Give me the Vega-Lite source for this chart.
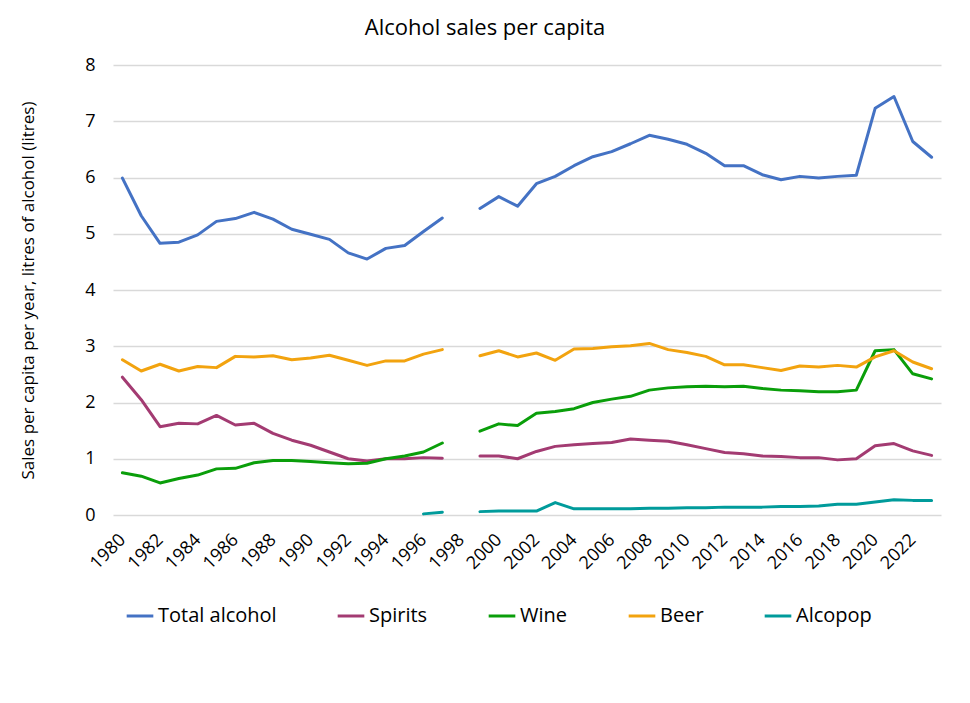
{
  "$schema": "https://vega.github.io/schema/vega-lite/v6.json",
  "width": 828,
  "height": 450,
  "autosize": {"type": "none"},
  "padding": {"left": 113, "top": 65, "right": 29, "bottom": 188},
  "background": "white",
  "title": {"text": "Alcohol sales per capita", "fontSize": 22, "font": "Open Sans", "fontWeight": "normal", "color": "#000000", "offset": 16, "dx": -42},
  "config": {
    "font": "Open Sans",
    "view": {"stroke": null}
  },
  "data": {
    "values": [
      {"year": 1980, "Total alcohol": 5.99, "Spirits": 2.45, "Wine": 0.75, "Beer": 2.76, "Alcopop": null},
      {"year": 1981, "Total alcohol": 5.32, "Spirits": 2.05, "Wine": 0.69, "Beer": 2.56, "Alcopop": null},
      {"year": 1982, "Total alcohol": 4.83, "Spirits": 1.57, "Wine": 0.57, "Beer": 2.68, "Alcopop": null},
      {"year": 1983, "Total alcohol": 4.85, "Spirits": 1.63, "Wine": 0.65, "Beer": 2.56, "Alcopop": null},
      {"year": 1984, "Total alcohol": 4.98, "Spirits": 1.62, "Wine": 0.71, "Beer": 2.64, "Alcopop": null},
      {"year": 1985, "Total alcohol": 5.22, "Spirits": 1.77, "Wine": 0.82, "Beer": 2.62, "Alcopop": null},
      {"year": 1986, "Total alcohol": 5.27, "Spirits": 1.60, "Wine": 0.83, "Beer": 2.82, "Alcopop": null},
      {"year": 1987, "Total alcohol": 5.38, "Spirits": 1.63, "Wine": 0.93, "Beer": 2.81, "Alcopop": null},
      {"year": 1988, "Total alcohol": 5.26, "Spirits": 1.45, "Wine": 0.97, "Beer": 2.83, "Alcopop": null},
      {"year": 1989, "Total alcohol": 5.08, "Spirits": 1.33, "Wine": 0.97, "Beer": 2.76, "Alcopop": null},
      {"year": 1990, "Total alcohol": 4.99, "Spirits": 1.24, "Wine": 0.95, "Beer": 2.79, "Alcopop": null},
      {"year": 1991, "Total alcohol": 4.90, "Spirits": 1.12, "Wine": 0.93, "Beer": 2.84, "Alcopop": null},
      {"year": 1992, "Total alcohol": 4.66, "Spirits": 1.00, "Wine": 0.91, "Beer": 2.75, "Alcopop": null},
      {"year": 1993, "Total alcohol": 4.55, "Spirits": 0.96, "Wine": 0.92, "Beer": 2.66, "Alcopop": null},
      {"year": 1994, "Total alcohol": 4.74, "Spirits": 1.00, "Wine": 1.00, "Beer": 2.74, "Alcopop": null},
      {"year": 1995, "Total alcohol": 4.79, "Spirits": 1.00, "Wine": 1.05, "Beer": 2.74, "Alcopop": null},
      {"year": 1996, "Total alcohol": 5.04, "Spirits": 1.02, "Wine": 1.12, "Beer": 2.86, "Alcopop": 0.02},
      {"year": 1997, "Total alcohol": 5.28, "Spirits": 1.01, "Wine": 1.28, "Beer": 2.94, "Alcopop": 0.05},
      {"year": 1998, "Total alcohol": null, "Spirits": null, "Wine": null, "Beer": null, "Alcopop": null},
      {"year": 1999, "Total alcohol": 5.45, "Spirits": 1.05, "Wine": 1.49, "Beer": 2.83, "Alcopop": 0.06},
      {"year": 2000, "Total alcohol": 5.66, "Spirits": 1.05, "Wine": 1.62, "Beer": 2.92, "Alcopop": 0.07},
      {"year": 2001, "Total alcohol": 5.49, "Spirits": 1.00, "Wine": 1.59, "Beer": 2.81, "Alcopop": 0.07},
      {"year": 2002, "Total alcohol": 5.89, "Spirits": 1.13, "Wine": 1.81, "Beer": 2.88, "Alcopop": 0.07},
      {"year": 2003, "Total alcohol": 6.02, "Spirits": 1.22, "Wine": 1.84, "Beer": 2.75, "Alcopop": 0.22},
      {"year": 2004, "Total alcohol": 6.21, "Spirits": 1.25, "Wine": 1.89, "Beer": 2.95, "Alcopop": 0.11},
      {"year": 2005, "Total alcohol": 6.37, "Spirits": 1.27, "Wine": 2.00, "Beer": 2.96, "Alcopop": 0.11},
      {"year": 2006, "Total alcohol": 6.46, "Spirits": 1.29, "Wine": 2.06, "Beer": 2.99, "Alcopop": 0.11},
      {"year": 2007, "Total alcohol": 6.60, "Spirits": 1.35, "Wine": 2.11, "Beer": 3.01, "Alcopop": 0.11},
      {"year": 2008, "Total alcohol": 6.75, "Spirits": 1.33, "Wine": 2.22, "Beer": 3.05, "Alcopop": 0.12},
      {"year": 2009, "Total alcohol": 6.68, "Spirits": 1.31, "Wine": 2.26, "Beer": 2.94, "Alcopop": 0.12},
      {"year": 2010, "Total alcohol": 6.59, "Spirits": 1.25, "Wine": 2.28, "Beer": 2.89, "Alcopop": 0.13},
      {"year": 2011, "Total alcohol": 6.43, "Spirits": 1.18, "Wine": 2.29, "Beer": 2.82, "Alcopop": 0.13},
      {"year": 2012, "Total alcohol": 6.21, "Spirits": 1.11, "Wine": 2.28, "Beer": 2.67, "Alcopop": 0.14},
      {"year": 2013, "Total alcohol": 6.21, "Spirits": 1.09, "Wine": 2.29, "Beer": 2.67, "Alcopop": 0.14},
      {"year": 2014, "Total alcohol": 6.05, "Spirits": 1.05, "Wine": 2.25, "Beer": 2.62, "Alcopop": 0.14},
      {"year": 2015, "Total alcohol": 5.96, "Spirits": 1.04, "Wine": 2.22, "Beer": 2.57, "Alcopop": 0.15},
      {"year": 2016, "Total alcohol": 6.02, "Spirits": 1.02, "Wine": 2.21, "Beer": 2.65, "Alcopop": 0.15},
      {"year": 2017, "Total alcohol": 5.99, "Spirits": 1.02, "Wine": 2.19, "Beer": 2.63, "Alcopop": 0.16},
      {"year": 2018, "Total alcohol": 6.02, "Spirits": 0.98, "Wine": 2.19, "Beer": 2.66, "Alcopop": 0.19},
      {"year": 2019, "Total alcohol": 6.04, "Spirits": 1.00, "Wine": 2.22, "Beer": 2.63, "Alcopop": 0.19},
      {"year": 2020, "Total alcohol": 7.23, "Spirits": 1.23, "Wine": 2.92, "Beer": 2.81, "Alcopop": 0.23},
      {"year": 2021, "Total alcohol": 7.44, "Spirits": 1.27, "Wine": 2.94, "Beer": 2.92, "Alcopop": 0.27},
      {"year": 2022, "Total alcohol": 6.64, "Spirits": 1.14, "Wine": 2.51, "Beer": 2.72, "Alcopop": 0.26},
      {"year": 2023, "Total alcohol": 6.36, "Spirits": 1.06, "Wine": 2.42, "Beer": 2.60, "Alcopop": 0.26}
    ]
  },
  "transform": [
    {"fold": ["Total alcohol", "Spirits", "Wine", "Beer", "Alcopop"], "as": ["series", "value"]}
  ],
  "mark": {"type": "line", "strokeWidth": 3, "invalid": "break-paths-show-domains", "strokeJoin": "round", "strokeCap": "round"},
  "encoding": {
    "x": {
      "field": "year",
      "type": "quantitative",
      "scale": {"domain": [1979.5, 2023.5], "nice": false, "zero": false},
      "axis": {
        "title": null,
        "values": [1980, 1982, 1984, 1986, 1988, 1990, 1992, 1994, 1996, 1998, 2000, 2002, 2004, 2006, 2008, 2010, 2012, 2014, 2016, 2018, 2020, 2022],
        "format": "d",
        "labelAngle": -45,
        "labelAlign": "right",
        "labelBaseline": "middle",
        "labelFontSize": 18,
        "labelColor": "#000000",
        "labelPadding": 22,
        "labelFont": "Open Sans",
        "domain": false,
        "ticks": false,
        "grid": false,
        "labelOverlap": false
      }
    },
    "y": {
      "field": "value",
      "type": "quantitative",
      "scale": {"domain": [0, 8], "nice": false},
      "axis": {
        "title": "Sales per capita per year, litres of alcohol (litres)",
        "titleFontSize": 17,
        "titleFontWeight": "normal",
        "titleFont": "Open Sans",
        "titleColor": "#000000",
        "titlePadding": 47,
        "values": [0, 1, 2, 3, 4, 5, 6, 7, 8],
        "labelFontSize": 18,
        "labelColor": "#000000",
        "labelFont": "Open Sans",
        "labelPadding": 18,
        "domain": false,
        "ticks": false,
        "grid": true,
        "gridColor": "#D9D9D9",
        "gridWidth": 1.3
      }
    },
    "color": {
      "field": "series",
      "type": "nominal",
      "scale": {
        "domain": ["Total alcohol", "Spirits", "Wine", "Beer", "Alcopop"],
        "range": ["#4472C4", "#A33B72", "#0A9E0A", "#F2A30F", "#009B9B"]
      },
      "legend": {
        "title": null,
        "orient": "none",
        "direction": "horizontal",
        "legendX": 12,
        "legendY": 536,
        "symbolType": "stroke",
        "symbolSize": 710,
        "symbolStrokeWidth": 3,
        "labelFontSize": 20,
        "labelFont": "Open Sans",
        "labelColor": "#000000",
        "labelOffset": 3,
        "columnPadding": 54,
        "labelLimit": 300
      }
    }
  }
}
